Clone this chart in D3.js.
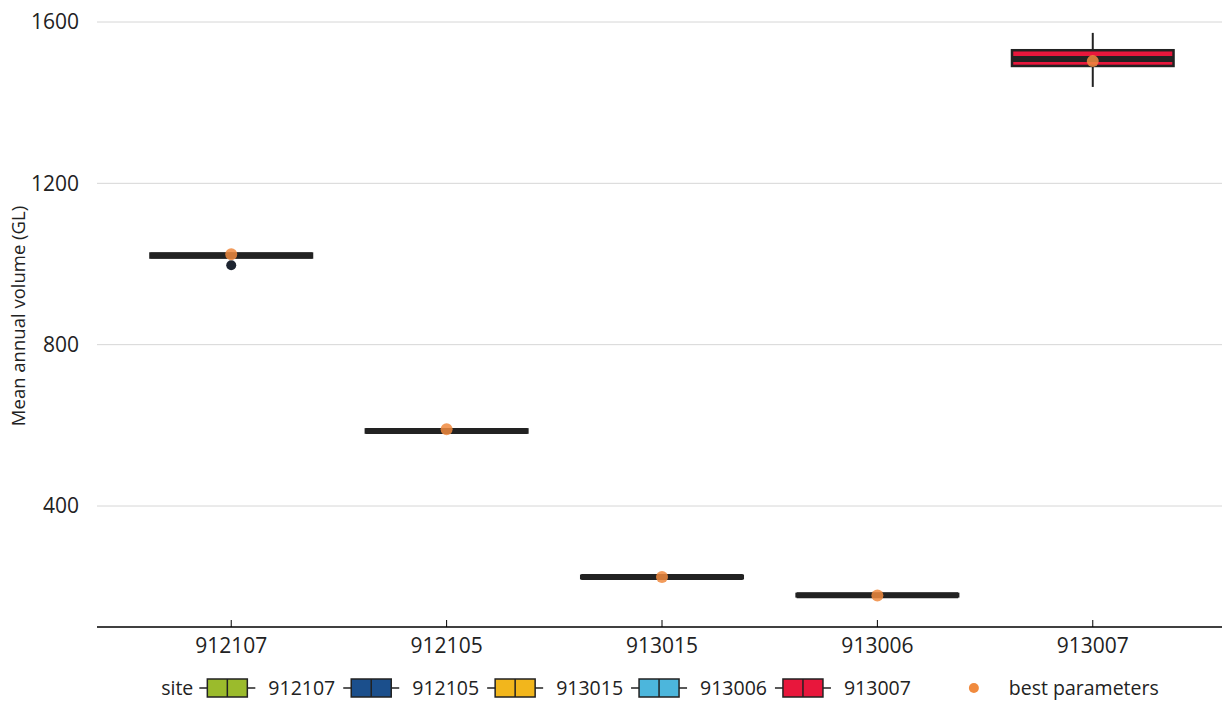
<!DOCTYPE html>
<html>
<head>
<meta charset="utf-8">
<script src="https://cdn.jsdelivr.net/npm/d3@7"></script>
<style>
  body { margin: 0; background: #fff; }
  text { font-family: "Open Sans", Lato, sans-serif; fill: #222; }
</style>
</head>
<body>
<div id="chart"></div>
<script>
// site boxplot summaries (GL)
var sites = ["912107", "912105", "913015", "913006", "913007"];
var siteColors = ["#9bbb2c", "#1b4f8c", "#f2b61c", "#4cb6dc", "#e8173c"];
var whiskerLow = [1014, 581, 220, 175, 1439];
var q1 = [1016, 582, 221, 176, 1491];
var median = [1021, 586, 224, 179, 1508];
var q3 = [1026, 590, 227, 182, 1530];
var whiskerHigh = [1029, 591, 228, 183, 1573];
var outliers = [[997], [], [], [], []];
var bestParams = [1024, 590, 224, 178, 1503];
var yTicks = [400, 800, 1200, 1600];

var svgWidth = 1223;
var svgHeight = 709;
var fontSize = "21px";
var legFont = "19.5px";

var panel = { left: 97, right: 1222, top: 5 };

var svg = d3.select("#chart")
  .append("svg")
  .attr("width", svgWidth)
  .attr("height", svgHeight);

var x = d3.scaleBand()
  .domain(sites)
  .range([102, 1222])
  .paddingOuter(0.1)
  .paddingInner(0);

var step = x.step();
var xc = function(s) { return x(s) + x.bandwidth() / 2; };
var boxW = step * 0.75;

var y = d3.scaleLinear()
  .domain([400, 1600])
  .range([506, 22]);

var axisY = y(100);

// gridlines
svg.append("g")
  .selectAll("line")
  .data(yTicks)
  .enter()
  .append("line")
  .attr("x1", panel.left)
  .attr("x2", panel.right)
  .attr("y1", d => y(d))
  .attr("y2", d => y(d))
  .attr("stroke", "#d6d6d6")
  .attr("stroke-width", 1);

// y tick labels
svg.append("g")
  .selectAll("text")
  .data(yTicks)
  .enter()
  .append("text")
  .attr("x", 79)
  .attr("y", d => y(d))
  .attr("dy", "0.35em")
  .attr("text-anchor", "end")
  .style("font-size", fontSize)
  .text(d => d);

// y title
svg.append("text")
  .attr("transform", "rotate(-90)")
  .attr("x", -(y(100) + panel.top) / 2)
  .attr("y", 25)
  .attr("text-anchor", "middle")
  .style("font-size", "18.5px")
  .text("Mean annual volume (GL)");

// x axis
var bottomAxis = d3.axisBottom(x).tickSize(-7).tickSizeOuter(0).tickPadding(11);
var xAxisG = svg.append("g")
  .attr("transform", `translate(0, ${axisY})`)
  .call(bottomAxis);
xAxisG.select(".domain").remove();
xAxisG.append("line")
  .attr("x1", panel.left)
  .attr("x2", panel.right)
  .attr("stroke", "#000")
  .attr("stroke-width", 1.3);
xAxisG.selectAll(".tick line").attr("stroke", "#000");
xAxisG.selectAll(".tick text")
  .style("font-size", fontSize)
  .style("font-family", "'Open Sans', Lato, sans-serif")
  .attr("fill", "#222");

// boxes
var boxes = svg.append("g")
  .selectAll("g")
  .data(sites)
  .enter()
  .append("g");

boxes.append("line")
  .attr("x1", d => xc(d))
  .attr("x2", d => xc(d))
  .attr("y1", (d, i) => y(whiskerLow[i]))
  .attr("y2", (d, i) => y(whiskerHigh[i]))
  .attr("stroke", "#222")
  .attr("stroke-width", 2);

boxes.append("rect")
  .attr("x", d => xc(d) - boxW / 2)
  .attr("width", boxW)
  .attr("y", (d, i) => y(q3[i]))
  .attr("height", (d, i) => y(q1[i]) - y(q3[i]))
  .attr("fill", (d, i) => siteColors[i])
  .attr("stroke", "#222")
  .attr("stroke-width", 2.5);

boxes.append("line")
  .attr("x1", d => xc(d) - boxW / 2)
  .attr("x2", d => xc(d) + boxW / 2)
  .attr("y1", (d, i) => y(median[i]))
  .attr("y2", (d, i) => y(median[i]))
  .attr("stroke", "#222")
  .attr("stroke-width", 6);

boxes.selectAll("circle.out")
  .data((d, i) => outliers[i].map(v => ({ s: d, v: v })))
  .enter()
  .append("circle")
  .attr("class", "out")
  .attr("cx", d => xc(d.s))
  .attr("cy", d => y(d.v))
  .attr("r", 5)
  .attr("fill", "#1d2430");

// best parameter points
svg.append("g")
  .selectAll("circle")
  .data(sites)
  .enter()
  .append("circle")
  .attr("cx", d => xc(d))
  .attr("cy", (d, i) => y(bestParams[i]))
  .attr("r", 6)
  .attr("fill", "#f08a3e")
  .attr("opacity", 0.85);

// legend
var legY = 688;
var leg = svg.append("g");
var cursor = 0;
var siteLabel = leg.append("text")
  .attr("x", cursor)
  .attr("y", legY)
  .attr("dy", "0.35em")
  .style("font-size", legFont)
  .text("site");
cursor += siteLabel.node().getComputedTextLength() + 6;

sites.forEach(function(s, i) {
  var kx = cursor;
  leg.append("line")
    .attr("x1", kx).attr("x2", kx + 56)
    .attr("y1", legY).attr("y2", legY)
    .attr("stroke", "#222").attr("stroke-width", 1.5);
  leg.append("rect")
    .attr("x", kx + 8).attr("y", legY - 9)
    .attr("width", 40).attr("height", 18)
    .attr("fill", siteColors[i])
    .attr("stroke", "#222").attr("stroke-width", 1.5);
  leg.append("line")
    .attr("x1", kx + 28).attr("x2", kx + 28)
    .attr("y1", legY - 9).attr("y2", legY + 9)
    .attr("stroke", "#222").attr("stroke-width", 1.5);
  cursor += 56 + 13;
  var t = leg.append("text")
    .attr("x", cursor)
    .attr("y", legY)
    .attr("dy", "0.35em")
    .style("font-size", legFont)
    .text(s);
  cursor += t.node().getComputedTextLength() + 8;
});

cursor += 55;
leg.append("circle")
  .attr("cx", cursor)
  .attr("cy", legY)
  .attr("r", 5)
  .attr("fill", "#f08a3e");
cursor += 35;
var bt = leg.append("text")
  .attr("x", cursor)
  .attr("y", legY)
  .attr("dy", "0.35em")
  .style("font-size", legFont)
  .text("best parameters");
cursor += bt.node().getComputedTextLength();

leg.attr("transform", `translate(${660 - cursor / 2}, 0)`);
</script>
</body>
</html>
